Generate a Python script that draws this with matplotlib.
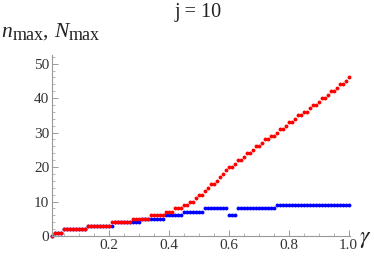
import matplotlib
matplotlib.use('Agg')
import matplotlib.pyplot as plt
from matplotlib.ticker import MultipleLocator

# 数据
gamma = [0.01, 0.02, 0.03, 0.04, 0.05, 0.06, 0.07, 0.08, 0.09, 0.10,
         0.11, 0.12, 0.13, 0.14, 0.15, 0.16, 0.17, 0.18, 0.19, 0.20,
         0.21, 0.22, 0.23, 0.24, 0.25, 0.26, 0.27, 0.28, 0.29, 0.30,
         0.31, 0.32, 0.33, 0.34, 0.35, 0.36, 0.37, 0.38, 0.39, 0.40,
         0.41, 0.42, 0.43, 0.44, 0.45, 0.46, 0.47, 0.48, 0.49, 0.50,
         0.51, 0.52, 0.53, 0.54, 0.55, 0.56, 0.57, 0.58, 0.59, 0.60,
         0.61, 0.62, 0.63, 0.64, 0.65, 0.66, 0.67, 0.68, 0.69, 0.70,
         0.71, 0.72, 0.73, 0.74, 0.75, 0.76, 0.77, 0.78, 0.79, 0.80,
         0.81, 0.82, 0.83, 0.84, 0.85, 0.86, 0.87, 0.88, 0.89, 0.90,
         0.91, 0.92, 0.93, 0.94, 0.95, 0.96, 0.97, 0.98, 0.99, 1.00]

n_max = [0, 1, 1, 1, 2, 2, 2, 2, 2, 2,
         2, 2, 3, 3, 3, 3, 3, 3, 3, 3,
         4, 4, 4, 4, 4, 4, 4, 5, 5, 5,
         5, 5, 5, 6, 6, 6, 6, 6, 7, 7,
         7, 8, 8, 8, 9, 9, 10, 10, 11, 12,
         12, 13, 14, 15, 15, 16, 17, 18, 19, 20,
         20, 21, 22, 22, 23, 24, 24, 25, 26, 26,
         27, 28, 28, 29, 29, 30, 31, 31, 32, 33,
         33, 34, 35, 35, 36, 36, 37, 38, 38, 39,
         40, 40, 41, 42, 42, 43, 44, 44, 45, 46]

N_max = [0, 1, 1, 1, 2, 2, 2, 2, 2, 2,
         2, 2, 3, 3, 3, 3, 3, 3, 3, 3,
         3, 4, 4, 4, 4, 4, 4, 4, 4, 4,
         5, 5, 5, 5, 5, 5, 5, 5, 6, 6,
         6, 6, 6, 6, 7, 7, 7, 7, 7, 7,
         7, 8, 8, 8, 8, 8, 8, 8, 8, 6,
         6, 6, 8, 8, 8, 8, 8, 8, 8, 8,
         8, 8, 8, 8, 8, 9, 9, 9, 9, 9,
         9, 9, 9, 9, 9, 9, 9, 9, 9, 9,
         9, 9, 9, 9, 9, 9, 9, 9, 9, 9]

x_ticks = [0.2, 0.4, 0.6, 0.8, 1.0]
y_ticks = [0, 10, 20, 30, 40, 50]

plt.rcParams['mathtext.fontset'] = 'stix'
plt.rcParams['font.family'] = ['Liberation Serif', 'DejaVu Serif']

fig = plt.figure(figsize=(3.74, 2.56), dpi=100)
ax = fig.add_axes([52 / 374, 20 / 256, 298 / 374, 181 / 256])

# 先画蓝色，红色盖在上面
ax.plot(gamma, N_max, 'o', color='#0000ff', markersize=2.8, markeredgewidth=0, clip_on=False)
ax.plot(gamma, n_max, 'o', color='#ff0000', markersize=2.8, markeredgewidth=0, clip_on=False)

ax.set_xlim(0.01, 1.005)
ax.set_ylim(0, 52.5)

# Mathematica 风格的坐标轴
ax.spines['top'].set_visible(False)
ax.spines['right'].set_visible(False)
ax.spines['left'].set_color('#999999')
ax.spines['bottom'].set_color('#999999')
ax.spines['left'].set_linewidth(0.8)
ax.spines['bottom'].set_linewidth(0.8)

ax.set_xticks(x_ticks)
ax.set_xticklabels([f'{t:.1f}' for t in x_ticks])
ax.set_yticks(y_ticks)
ax.xaxis.set_minor_locator(MultipleLocator(0.05))
ax.yaxis.set_minor_locator(MultipleLocator(2))
ax.tick_params(which='major', direction='in', length=4, width=0.7, color='#999999',
               labelsize=11, labelcolor='#333333', pad=2)
ax.tick_params(which='minor', direction='in', length=2, width=0.5, color='#999999')

# 标题
fig.text(198 / 374, 1 - 12 / 256, 'j = 10', ha='center', va='center', fontsize=14.5, color='#222222')

# y 轴标签：一段一段拼出来，下标字号比 mathtext 默认的大
pieces = [('n', 'italic', 15.5, 0), ('max', 'normal', 13, -3.5), (', ', 'normal', 15.5, 0),
          ('N', 'italic', 15.5, 0), ('max', 'normal', 13, -3.5)]
fig.canvas.draw()
renderer = fig.canvas.get_renderer()
x_px = 1
for s, style, size, dy in pieces:
    t = fig.text(x_px / 374, (256 - 37 + dy) / 256, s, ha='left', va='baseline',
                 fontsize=size, style=style, color='#222222')
    x_px = t.get_window_extent(renderer).x1 + (0.5 if style == 'italic' else 0)

fig.text(359 / 374, 1 - 239 / 256, r'$\gamma$', ha='left', va='center', fontsize=17, color='#222222')

fig.savefig('out.png', dpi=100)
